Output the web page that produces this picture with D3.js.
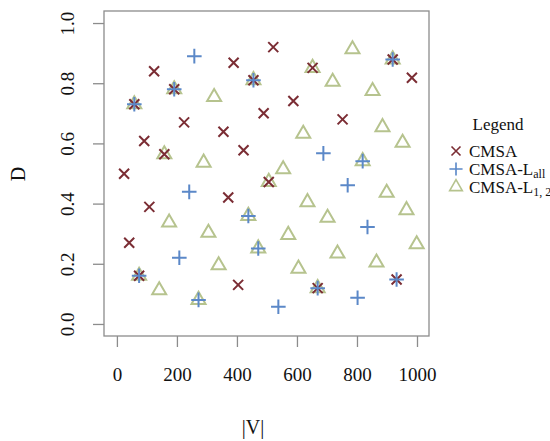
<!DOCTYPE html>
<html><head><meta charset="utf-8">
<script src="https://cdn.jsdelivr.net/npm/d3@7"></script>
<style>body{margin:0;background:#fff}</style>
</head><body>
<svg id="c" width="550" height="441"></svg>
<script>
// ---- data ----
const cmsa = [[124,0.84],[389,0.868],[521,0.92],[919,0.879],[983,0.818],[652,0.851],[455,0.81],[191,0.78],[58,0.73],[588,0.741],[489,0.70],[752,0.68],[224,0.67],[355,0.639],[91,0.608],[422,0.577],[158,0.564],[24,0.499],[506,0.472],[371,0.42],[108,0.389],[41,0.27],[74,0.16],[932,0.148],[404,0.13],[669,0.119]];
const lall = [[258,0.89],[919,0.879],[455,0.81],[191,0.78],[58,0.73],[688,0.567],[819,0.541],[769,0.461],[241,0.439],[438,0.359],[835,0.322],[471,0.251],[208,0.22],[74,0.16],[932,0.148],[669,0.119],[802,0.087],[272,0.08],[538,0.057]];
const l12 = [[785,0.913],[919,0.879],[652,0.851],[455,0.81],[719,0.805],[191,0.78],[852,0.774],[324,0.754],[58,0.73],[885,0.654],[621,0.632],[952,0.602],[158,0.564],[819,0.541],[289,0.536],[554,0.514],[506,0.472],[899,0.436],[635,0.405],[965,0.378],[438,0.359],[702,0.353],[174,0.337],[305,0.303],[571,0.296],[999,0.265],[471,0.251],[735,0.234],[865,0.204],[339,0.195],[605,0.184],[74,0.16],[669,0.119],[141,0.112],[272,0.08]];
const xTicks = [0,200,400,600,800,1000];
const yTicks = [0,0.2,0.4,0.6,0.8,1.0];
const legendNames = [["CMSA",""],["CMSA-L","all"],["CMSA-L","1, 2"]];

const colX = "#7b2d34", colP = "#5b88c8", colT = "#b6c38e";
const font = "'Liberation Serif','Times New Roman',serif";
const svg = d3.select("#c");
const L=104,T=11,R=429,B=336;
const x = d3.scaleLinear().domain([-43,1040]).range([L,R]);
const y = d3.scaleLinear().domain([-0.04,1.04]).range([B,T]);

// axes
const gx = svg.append("g").attr("transform",`translate(0,${B})`)
  .call(d3.axisBottom(x).tickValues(xTicks).tickSize(11).tickPadding(21).tickFormat(d3.format("d")));
const gy = svg.append("g").attr("transform",`translate(${L},0)`)
  .call(d3.axisLeft(y).tickValues(yTicks).tickSize(11).tickFormat(d3.format(".1f")));
[gx,gy].forEach(g=>{
  g.select(".domain").remove();
  g.selectAll("line").attr("stroke","#8c8c8c").attr("stroke-width",1.3);
  g.selectAll("text").attr("font-family",font).attr("font-size",19).attr("fill","#111");
});
gy.selectAll("text").attr("x",null).attr("dy",null)
  .attr("text-anchor","middle").attr("dominant-baseline","central")
  .attr("transform","translate(-37,0) rotate(-90)");

// box
svg.append("rect").attr("x",L).attr("y",T).attr("width",R-L).attr("height",B-T)
  .attr("fill","none").attr("stroke","#8c8c8c").attr("stroke-width",1.3);

// marks
const xPath = "M-5,-5L5,5M-5,5L5,-5";
const pPath = "M-7.3,0L7.3,0M0,-7.3L0,7.3";
const tPath = d3.symbol(d3.symbolTriangle, 85)();
function draw(data, path, col){
  svg.append("g").selectAll("path").data(data).join("path")
    .attr("d",path).attr("transform",d=>`translate(${x(d[0])},${y(d[1])})`)
    .attr("fill","none").attr("stroke",col).attr("stroke-width",2);
}
draw(l12,tPath,colT);
draw(cmsa,xPath,colX);
draw(lall,pPath,colP);

// axis titles
svg.append("text").attr("x",253).attr("y",427).attr("text-anchor","middle").attr("dominant-baseline","central")
  .attr("font-family",font).attr("font-size",20).attr("fill","#111").text("|V|");
svg.append("text").attr("transform","translate(18,174) rotate(-90)").attr("text-anchor","middle").attr("dominant-baseline","central")
  .attr("font-family",font).attr("font-size",20).attr("fill","#111").text("D");

// legend
svg.append("text").attr("x",498).attr("y",130).attr("text-anchor","middle")
  .attr("font-family",font).attr("font-size",17).attr("fill","#111").text("Legend");
const paths=[xPath,pPath,tPath], cols=[colX,colP,colT];
legendNames.forEach((n,i)=>{
  const cy = 151 + i*18;
  svg.append("path").attr("d",paths[i]).attr("transform",`translate(456,${cy}) scale(0.9)`)
    .attr("fill","none").attr("stroke",cols[i]).attr("stroke-width",1.8);
  const t = svg.append("text").attr("x",469).attr("y",cy+6)
    .attr("font-family",font).attr("font-size",17).attr("fill","#111");
  t.append("tspan").text(n[0]);
  if(n[1]) t.append("tspan").attr("font-size",12).attr("dy",3).text(n[1]);
});
</script>
</body></html>
